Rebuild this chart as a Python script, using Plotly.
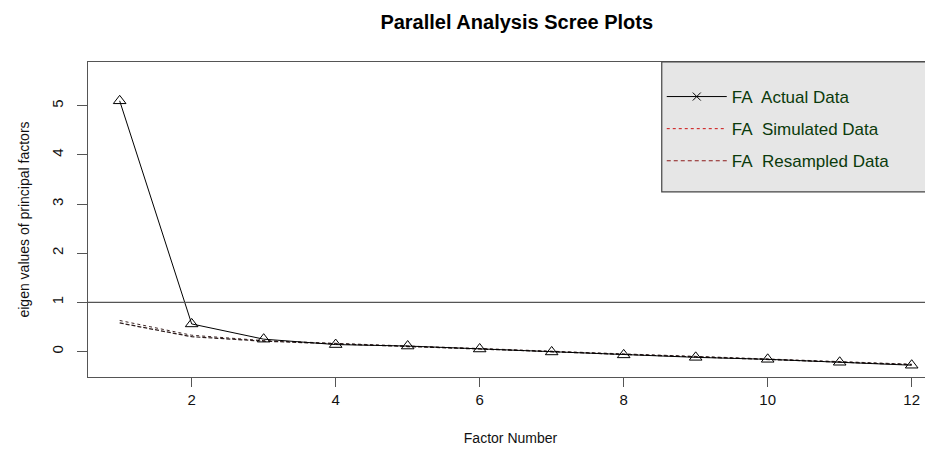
import plotly.graph_objects as go

factors = list(range(1, 13))
actual = [5.10, 0.56, 0.25, 0.14, 0.11, 0.05, -0.01, -0.07, -0.12, -0.16, -0.22, -0.28]
simulated = [0.63, 0.33, 0.22, 0.16, 0.11, 0.06, 0.00, -0.05, -0.10, -0.15, -0.20, -0.26]
resampled = [0.58, 0.30, 0.21, 0.15, 0.10, 0.05, -0.01, -0.06, -0.11, -0.16, -0.21, -0.27]
legend_names = ["FA\u00a0 Actual Data", "FA\u00a0 Simulated Data", "FA\u00a0 Resampled Data"]
x_ticks = [2, 4, 6, 8, 10, 12]
y_ticks = [0, 1, 2, 3, 4, 5]
ref_level = 1

FONT = "Liberation Sans, Arial, sans-serif"

fig = go.Figure()

# plotted series
fig.add_trace(go.Scatter(x=factors, y=simulated, mode="lines",
                         line=dict(color="#3a2222", width=1, dash="dot"), showlegend=False))
fig.add_trace(go.Scatter(x=factors, y=resampled, mode="lines",
                         line=dict(color="#2a1a1a", width=1.2, dash="4px,2px"), showlegend=False))
fig.add_trace(go.Scatter(x=factors, y=actual, mode="lines+markers",
                         line=dict(color="black", width=1),
                         marker=dict(symbol="triangle-up-open", size=11, color="black",
                                     line=dict(width=1, color="black")),
                         showlegend=False))

# legend entries
fig.add_trace(go.Scatter(x=[None], y=[None], mode="lines+markers", name=legend_names[0],
                         line=dict(color="black", width=1),
                         marker=dict(symbol="x-thin-open", size=8, color="black",
                                     line=dict(width=1, color="black")),
                         legendgroup="a"))
fig.add_trace(go.Scatter(x=[None], y=[None], mode="lines", name=legend_names[1],
                         line=dict(color="#cc1111", width=1, dash="dot"), legendgroup="b"))
fig.add_trace(go.Scatter(x=[None], y=[None], mode="lines", name=legend_names[2],
                         line=dict(color="#8b1a1a", width=1, dash="4px,3px"), legendgroup="c"))

fig.add_hline(y=ref_level, line=dict(color="#555555", width=1.2))

# legend box background
fig.add_shape(type="rect", xref="paper", yref="paper", x0=0.679, x1=1.02, y0=0.588, y1=1.0,
              fillcolor="#e6e6e6", line=dict(color="#444444", width=1.2), layer="above")

fig.update_layout(
    width=925, height=447,
    margin=dict(l=80, r=0, t=54, b=78, autoexpand=False),
    paper_bgcolor="white", plot_bgcolor="white",
    font=dict(family=FONT, color="#111111"),
    title=dict(text="<b>Parallel Analysis Scree Plots</b>", x=0.550, xref="container",
               xanchor="center", y=0.969, yref="container", yanchor="middle",
               font=dict(size=20, color="black", family=FONT)),
    xaxis=dict(range=[0.56, 12.296], tickvals=x_ticks, showgrid=False, zeroline=False,
               automargin=False,
               showline=True, linecolor="#555555", linewidth=1.2, mirror=True,
               ticks="outside", ticklen=9, tickcolor="#555555", tickwidth=1,
               tickfont=dict(size=15, color="#111111"),
               title=dict(text="Factor Number", font=dict(size=14, color="#111111"), standoff=26)),
    yaxis=dict(range=[-0.52, 5.89], tickvals=y_ticks, showgrid=False, zeroline=False,
               automargin=False,
               showline=True, linecolor="#555555", linewidth=1.2, mirror=False,
               ticks="outside", ticklen=10, tickcolor="#555555", tickwidth=1,
               tickangle=-90, ticklabelstandoff=8,
               tickfont=dict(size=15, color="#111111"),
               title=dict(text="eigen values of principal factors",
                          font=dict(size=14, color="#111111"), standoff=16)),
    legend=dict(x=0.679, xanchor="left", y=0.946, yanchor="top",
                bgcolor="rgba(0,0,0,0)", borderwidth=0,
                itemwidth=60, traceorder="grouped", tracegroupgap=7,
                font=dict(size=17, color="#0b3a0b", family=FONT)),
)

fig.write_html("out.html")
